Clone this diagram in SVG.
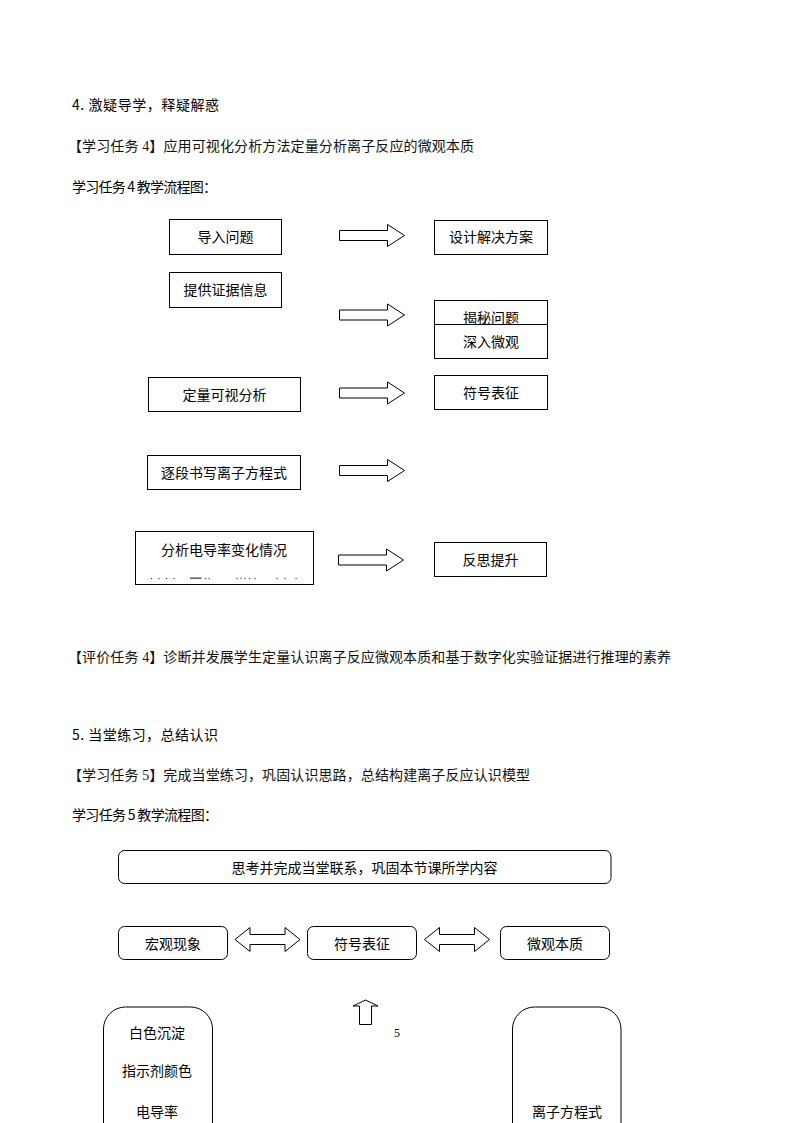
<svg xmlns="http://www.w3.org/2000/svg" xmlns:xlink="http://www.w3.org/1999/xlink" width="794" height="1123" viewBox="0 0 794 1123">
<style>
.h{font-family:"Noto Sans CJK SC",sans-serif;font-size:14px;fill:#000}
.s{font-family:"Liberation Serif","Noto Sans CJK SC",serif;font-size:14px;fill:#111}
.t{font-family:"Liberation Sans","Noto Sans CJK SC",sans-serif;font-size:14px;fill:#000;text-anchor:middle}
.box{fill:#fff;stroke:#000;stroke-width:1}
.arr{fill:#fff;stroke:#000;stroke-width:1}
.pg{font-family:"Liberation Serif",serif;font-size:12px;fill:#000}
</style>
<defs>
<path id="rarrow" d="M0,-5 H48 V-11 L65,0 L48,11 V5 H0 Z"/>
<path id="darrow" d="M0,0 L15,-12 V-5 H50 V-12 L65,0 L50,12 V5 H15 V12 Z"/>
</defs>
<rect width="794" height="1123" fill="#fff"/>

<g id="headings">
<text class="h" x="72" y="110" textLength="147" lengthAdjust="spacing">4. 激疑导学，释疑解惑</text>
<text class="s" x="68" y="151" textLength="406" lengthAdjust="spacing">【学习任务 4】应用可视化分析方法定量分析离子反应的微观本质</text>
<text class="h" x="72" y="192" textLength="145" lengthAdjust="spacing">学习任务 4 教学流程图：</text>
<text class="s" x="68" y="662" textLength="603" lengthAdjust="spacing">【评价任务 4】诊断并发展学生定量认识离子反应微观本质和基于数字化实验证据进行推理的素养</text>
<text class="h" x="72" y="740" textLength="146" lengthAdjust="spacing">5. 当堂练习，总结认识</text>
<text class="s" x="68" y="780" textLength="462" lengthAdjust="spacing">【学习任务 5】完成当堂练习，巩固认识思路，总结构建离子反应认识模型</text>
<text class="h" x="72" y="820" textLength="146" lengthAdjust="spacing">学习任务 5 教学流程图：</text>
<text class="pg" x="394" y="1037">5</text>
</g>

<g id="connectors">
<use xlink:href="#rarrow" href="#rarrow" class="arr" transform="translate(339.5,235.5)"/>
<use xlink:href="#rarrow" href="#rarrow" class="arr" transform="translate(339.5,315)"/>
<use xlink:href="#rarrow" href="#rarrow" class="arr" transform="translate(339.5,393)"/>
<use xlink:href="#rarrow" href="#rarrow" class="arr" transform="translate(339.5,470.5)"/>
<use xlink:href="#rarrow" href="#rarrow" class="arr" transform="translate(338.5,560)"/>
<use xlink:href="#darrow" href="#darrow" class="arr" transform="translate(235,939.5)"/>
<use xlink:href="#darrow" href="#darrow" class="arr" transform="translate(424.5,939.5)"/>
<path class="arr" d="M365.5,1000 L378,1006 H371.5 V1024.5 H359.5 V1006 H353 Z"/>
</g>

<g id="n-daoru"><rect class="box" x="169.5" y="219.5" width="112" height="35"/><text class="t" x="225.5" y="242">导入问题</text></g>
<g id="n-zhengju"><rect class="box" x="169.5" y="272.5" width="112" height="35"/><text class="t" x="225.5" y="295">提供证据信息</text></g>
<g id="n-sheji"><rect class="box" x="434.5" y="220.5" width="113" height="34"/><text class="t" x="491" y="242">设计解决方案</text></g>
<g id="n-jiemi"><rect class="box" x="434.5" y="300.5" width="113" height="30"/><text class="t" x="491" y="322.5">揭秘问题</text></g>
<g id="n-shenru"><rect class="box" x="434.5" y="324.5" width="113" height="34"/><text class="t" x="491" y="346.5">深入微观</text></g>
<g id="n-dingliang"><rect class="box" x="148.5" y="377.5" width="152" height="34"/><text class="t" x="224.5" y="400">定量可视分析</text></g>
<g id="n-fuhao1"><rect class="box" x="434.5" y="375.5" width="113" height="34"/><text class="t" x="491" y="397.5">符号表征</text></g>
<g id="n-zhuduan"><rect class="box" x="147.5" y="455.5" width="153" height="34"/><text class="t" x="224" y="477.5">逐段书写离子方程式</text></g>
<g id="n-diandao"><rect class="box" x="135.5" y="531.5" width="178" height="53"/><text class="t" x="224" y="555">分析电导率变化情况</text>
<g fill="#444">
<rect x="151" y="578" width="1.2" height="1.2"/><rect x="158.5" y="578" width="1.2" height="1.2"/><rect x="166" y="578" width="1.2" height="1.2"/><rect x="173.5" y="578" width="1.2" height="1.2"/>
<rect x="190" y="577.5" width="11.5" height="1.3"/><rect x="205" y="578" width="1.2" height="1.2"/><rect x="208.5" y="578" width="1.2" height="1.2"/>
<rect x="236.5" y="578" width="1.2" height="1.2"/><rect x="240.5" y="577.5" width="1.2" height="1.2"/><rect x="244.5" y="578" width="1.2" height="1.2"/><rect x="249" y="578" width="1.2" height="1.2"/><rect x="254.5" y="578" width="1.2" height="1.2"/>
<rect x="276.5" y="578" width="1.2" height="1.2"/><rect x="284.5" y="578" width="1.2" height="1.2"/><rect x="295.5" y="578" width="1.2" height="1.2"/>
</g></g>
<g id="n-fansi"><rect class="box" x="434.5" y="542.5" width="112" height="34"/><text class="t" x="490.5" y="565">反思提升</text></g>

<g id="n-sikao"><rect class="box" x="118.5" y="850.5" width="492.5" height="33" rx="6"/><text class="t" x="364.5" y="873">思考并完成当堂联系，巩固本节课所学内容</text></g>
<g id="n-hongguan"><rect class="box" x="118.5" y="926.5" width="109" height="33" rx="6"/><text class="t" x="173" y="948.5">宏观现象</text></g>
<g id="n-fuhao2"><rect class="box" x="307.5" y="926.5" width="109" height="33" rx="6"/><text class="t" x="362" y="948.5">符号表征</text></g>
<g id="n-weiguan"><rect class="box" x="500.5" y="926.5" width="109" height="33" rx="6"/><text class="t" x="555" y="948.5">微观本质</text></g>
<g id="n-left"><path class="box" d="M103.5,1124 V1029 A22,22 0 0 1 125.5,1007 H190.5 A22,22 0 0 1 212.5,1029 V1124"/>
<text class="t" x="157" y="1037.5">白色沉淀</text><text class="t" x="157" y="1076">指示剂颜色</text><text class="t" x="157" y="1116.5">电导率</text></g>
<g id="n-right"><path class="box" d="M512.5,1124 V1029 A22,22 0 0 1 534.5,1007 H599 A22,22 0 0 1 621,1029 V1124"/>
<text class="t" x="567" y="1116.5">离子方程式</text></g>
</svg>
